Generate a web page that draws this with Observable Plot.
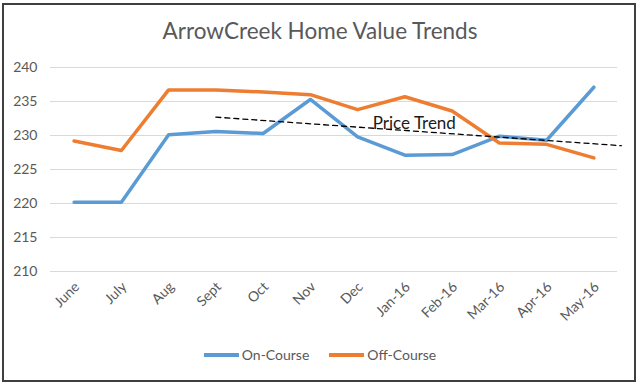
<!DOCTYPE html>
<html>
<head>
<meta charset="utf-8">
<script src="https://cdn.jsdelivr.net/npm/d3@7"></script>
<script src="https://cdn.jsdelivr.net/npm/@observablehq/plot@0.6"></script>
<style>
  body { margin: 0; background: #fff; }
  #wrap { position: relative; width: 640px; height: 384px; font-family: Lato, "Open Sans", sans-serif; color: #595959; overflow: hidden; }
  #frame { position: absolute; left: 2px; top: 3px; width: 634px; height: 379px; border: 2px solid #3f3f3f; box-sizing: border-box; }
  #title { position: absolute; left: 0; width: 640px; top: 17px; text-align: center; font-size: 22.5px; color: #595959; }
  #chart { position: absolute; left: 0; top: 50px; }
  #legend { position: absolute; left: 0; width: 640px; top: 346px; font-size: 14px; display: flex; justify-content: center; gap: 20px; }
  .item { display: flex; align-items: center; }
  .sw { display: inline-block; width: 35px; height: 4px; margin-right: 3px; }
</style>
</head>
<body>
<div id="wrap">
  <div id="frame"></div>
  <div id="title">ArrowCreek Home Value Trends</div>
  <div id="chart"></div>
  <div id="legend"></div>
</div>
<script>
const categories = ["June", "July", "Aug", "Sept", "Oct", "Nov", "Dec", "Jan-16", "Feb-16", "Mar-16", "Apr-16", "May-16"];
const onCourse = [220.2, 220.2, 230.1, 230.6, 230.3, 235.3, 229.8, 227.1, 227.2, 229.9, 229.3, 237.1];
const offCourse = [229.2, 227.8, 236.7, 236.7, 236.4, 236.0, 233.8, 235.7, 233.6, 228.9, 228.7, 226.7];
const seriesNames = ["On-Course", "Off-Course"];
const seriesColors = ["#5B9BD5", "#ED7D31"];
const trendX = [3, 11.58];
const trendY = [232.7, 228.5];
const trendLabel = [{x: 7.2, y: 231.7, text: "Price Trend"}];
const yTicks = [210, 215, 220, 225, 230, 235, 240];

const rows = [];
categories.forEach((c, i) => {
  rows.push({i, value: onCourse[i], series: seriesNames[0]});
});
categories.forEach((c, i) => {
  rows.push({i, value: offCourse[i], series: seriesNames[1]});
});
const trend = trendX.map((x, k) => ({x, y: trendY[k]}));

const plot = Plot.plot({
  width: 640,
  height: 280,
  marginTop: 17,
  marginBottom: 59,
  marginLeft: 50,
  marginRight: 23,
  style: {fontFamily: "Lato, 'Open Sans', sans-serif", fontSize: "14px", color: "#595959", background: "transparent"},
  x: {domain: [-0.5, 11.5], label: null},
  y: {domain: [210, 240], label: null},
  color: {domain: seriesNames, range: seriesColors},
  marks: [
    Plot.gridY(yTicks, {stroke: "#d9d9d9", strokeOpacity: 1, strokeWidth: 1}),
    Plot.axisY({ticks: yTicks, tickSize: 0, tickPadding: 13, fontSize: 14, label: null}),
    Plot.axisX({ticks: d3.range(categories.length), tickFormat: i => categories[i], tickRotate: -45, tickSize: 0, tickPadding: 13, fontSize: 14, label: null, dx: 3}),
    Plot.line(rows, {x: "i", y: "value", z: "series", stroke: "series", strokeWidth: 3.5, strokeLinejoin: "round", strokeLinecap: "round"}),
    Plot.line(trend, {x: "x", y: "y", stroke: "#000", strokeWidth: 1.3, strokeDasharray: "5,4", clip: false}),
    Plot.text(trendLabel, {x: "x", y: "y", text: "text", fontSize: 17, fill: "#1a1a1a", textAnchor: "middle"})
  ]
});
document.getElementById("chart").appendChild(plot);

const legend = document.getElementById("legend");
seriesNames.forEach((n, k) => {
  const it = document.createElement("div");
  it.className = "item";
  const sw = document.createElement("span");
  sw.className = "sw";
  sw.style.background = seriesColors[k];
  it.appendChild(sw);
  const t = document.createElement("span");
  t.textContent = n;
  it.appendChild(t);
  legend.appendChild(it);
});
</script>
</body>
</html>
